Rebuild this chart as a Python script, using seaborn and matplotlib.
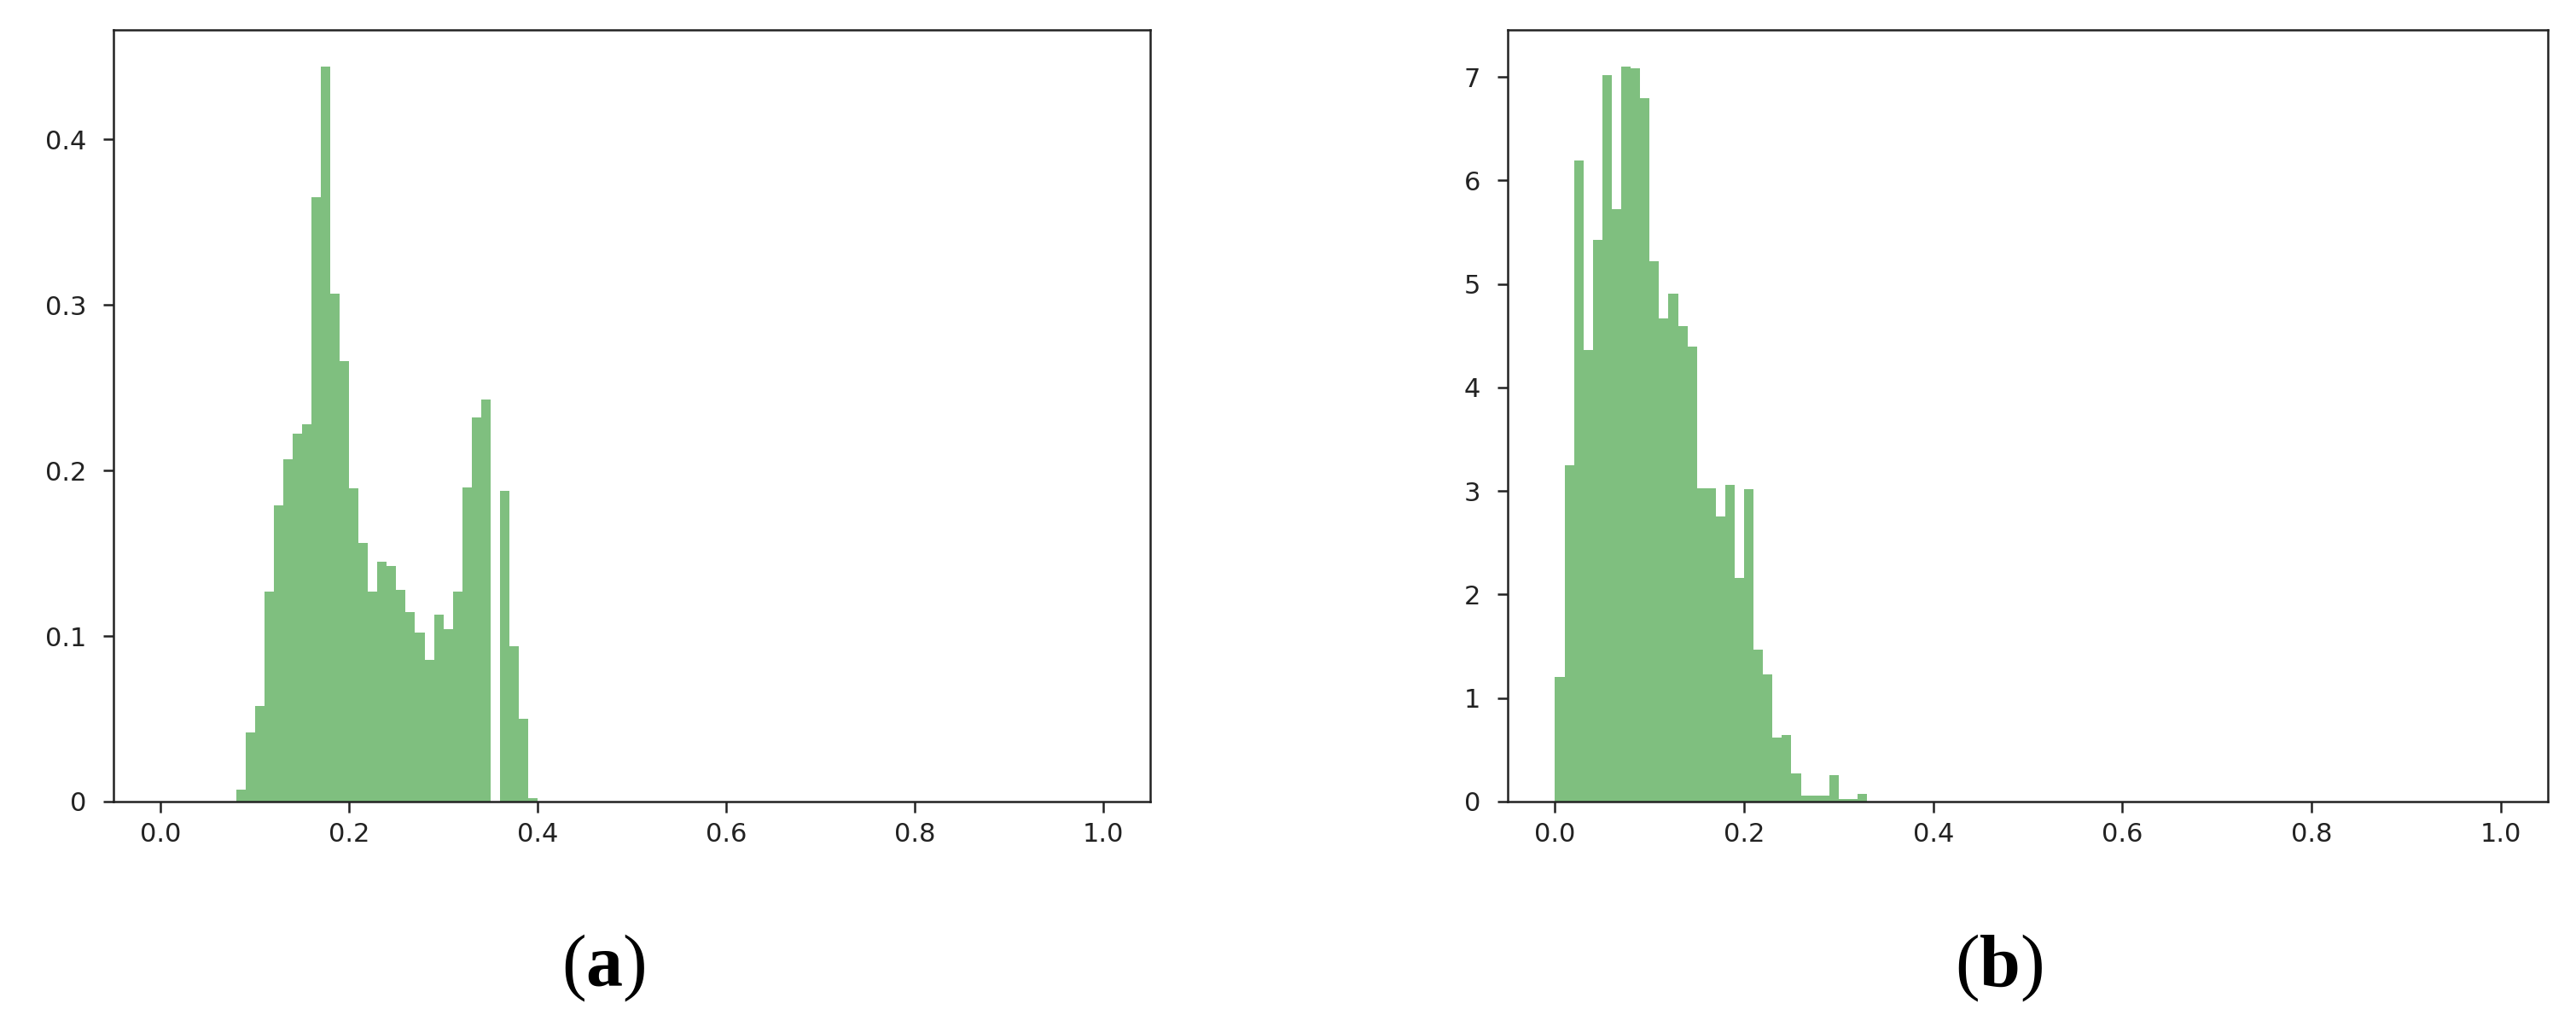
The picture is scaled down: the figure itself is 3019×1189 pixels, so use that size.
import numpy as np
import pandas as pd
import matplotlib
matplotlib.use('Agg')
import matplotlib.pyplot as plt
import seaborn as sns

# 1. 设置 ================================================
sns.set_style('white')
plt.rcParams.update({
    'font.family': ['DejaVu Sans'],
    'font.size': 11,
    'xtick.labelsize': 11,
    'ytick.labelsize': 11,
    'axes.linewidth': 0.9,
    'axes.edgecolor': '#222222',
    'xtick.bottom': True,
    'ytick.left': True,
    'xtick.direction': 'out',
    'ytick.direction': 'out',
    'xtick.major.size': 4.5,
    'ytick.major.size': 4.5,
    'xtick.major.width': 0.9,
    'ytick.major.width': 0.9,
    'xtick.color': '#222222',
    'ytick.color': '#222222',
    'mathtext.fontset': 'custom',
    'mathtext.rm': 'Liberation Serif',
    'mathtext.bf': 'Liberation Serif:bold',
})

hist_color = 'g'

# 2. 数据 (每个 bin 宽 0.01, 从 0 到 1) ==================
n_bins = 100
bin_edges = np.linspace(0.0, 1.0, n_bins + 1)

# (a) 从 0.08 开始的非零 bin
a_start = 8
a_heights = [0.0074, 0.042, 0.0576, 0.127, 0.179, 0.207, 0.222, 0.228,
             0.365, 0.444, 0.307, 0.266, 0.189, 0.156, 0.127, 0.145,
             0.1425, 0.128, 0.1147, 0.102, 0.0857, 0.113, 0.104, 0.127,
             0.190, 0.232, 0.243, 0.0, 0.1877, 0.094, 0.050, 0.002]
a_yticks = [0, 0.1, 0.2, 0.3, 0.4]
a_yticklabels = ['0', '0.1', '0.2', '0.3', '0.4']

# (b) 从 0.00 开始的非零 bin
b_start = 0
b_heights = [1.207, 3.25, 6.19, 4.36, 5.43, 7.016, 5.725, 7.10, 7.08, 6.795,
             5.22, 4.665, 4.91, 4.597, 4.397, 3.03, 3.03, 2.75, 3.06, 2.16,
             3.02, 1.47, 1.23, 0.62, 0.64, 0.274, 0.057, 0.057, 0.057, 0.255,
             0.028, 0.028, 0.071]
b_yticks = [0, 1, 2, 3, 4, 5, 6, 7]
b_yticklabels = ['0', '1', '2', '3', '4', '5', '6', '7']

xticks = [0.0, 0.2, 0.4, 0.6, 0.8, 1.0]
panel_labels = ['a', 'b']


def full_bins(start, heights):
    w = np.zeros(n_bins)
    w[start:start + len(heights)] = heights
    centers = (bin_edges[:-1] + bin_edges[1:]) / 2
    return pd.DataFrame({'x': centers, 'w': w})


panels = [
    (full_bins(a_start, a_heights), a_yticks, a_yticklabels),
    (full_bins(b_start, b_heights), b_yticks, b_yticklabels),
]

# 3. 画图 ================================================
fig = plt.figure(figsize=(15.095, 5.945), dpi=200)
ax_a = fig.add_axes([0.04405, 0.2103, 0.4025, 0.7603])
ax_b = fig.add_axes([0.5853, 0.2103, 0.4038, 0.7603])

for ax, (df, yt, ytl) in zip([ax_a, ax_b], panels):
    sns.histplot(data=df, x='x', weights='w', bins=list(bin_edges), stat='count',
                 element='step', fill=True, color=hist_color, alpha=0.5,
                 linewidth=0, ax=ax)
    ax.set_xlim(-0.05, 1.05)
    ax.set_ylim(0, df['w'].max() * 1.05)
    ax.set_xticks(xticks)
    ax.set_xticklabels([f'{t:.1f}' for t in xticks])
    ax.set_yticks(yt)
    ax.set_yticklabels(ytl)
    ax.tick_params(axis='x', pad=4)
    ax.tick_params(axis='y', pad=7)
    ax.set_xlabel('')
    ax.set_ylabel('')
    for s in ax.spines.values():
        s.set_visible(True)

# 面板标签
for xpos, lab in zip([0.2342, 0.7761], panel_labels):
    fig.text(xpos, 0.028, r'$\mathrm{(}\mathbf{' + lab + r'}\mathrm{)}$',
             ha='center', va='baseline', fontsize=31, color='black')

fig.savefig('out.png', dpi=200, facecolor='white')
